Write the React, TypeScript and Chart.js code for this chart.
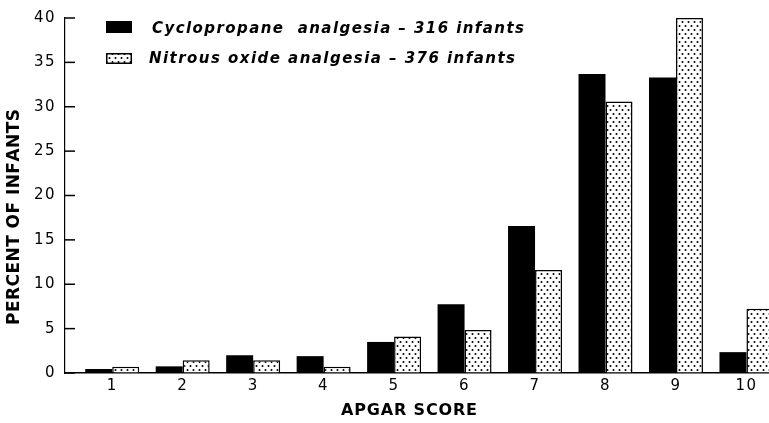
import { useEffect, useRef } from "react";
import { Chart, registerables } from "chart.js";

Chart.register(...registerables);

// ---- data ----
const APGAR_SCORES = [1, 2, 3, 4, 5, 6, 7, 8, 9, 10];
const CYCLOPROPANE = [0.45, 0.75, 2.0, 1.9, 3.5, 7.75, 16.55, 33.7, 33.3, 2.35];
const NITROUS_OXIDE = [0.7, 1.45, 1.45, 0.7, 4.1, 4.85, 11.6, 30.6, 40.0, 7.25];
const Y_TICKS = [0, 5, 10, 15, 20, 25, 30, 35, 40];
const SERIES_LABELS = [
  "Cyclopropane  analgesia – 316 infants",
  "Nitrous oxide analgesia – 376 infants",
];
const X_TITLE = "APGAR SCORE";
const Y_TITLE = "PERCENT OF INFANTS";

const FONT = "DejaVu Sans";

function makeDotPattern(ctx: CanvasRenderingContext2D): CanvasPattern | string {
  const tile = document.createElement("canvas");
  tile.width = 6;
  tile.height = 8;
  const t = tile.getContext("2d");
  if (!t) return "#fff";
  t.fillStyle = "#fff";
  t.fillRect(0, 0, 6, 8);
  t.fillStyle = "#000";
  t.beginPath();
  t.arc(1.5, 2, 1.0, 0, Math.PI * 2);
  t.arc(4.5, 6, 1.0, 0, Math.PI * 2);
  t.fill();
  return ctx.createPattern(tile, "repeat") || "#fff";
}

function spacedText(
  ctx: CanvasRenderingContext2D,
  text: string,
  x: number,
  y: number,
  target: number
) {
  const chars = Array.from(text);
  const widths = chars.map((c) => ctx.measureText(c).width);
  const natural = widths.reduce((a, b) => a + b, 0);
  const gap = chars.length > 1 ? (target - natural) / (chars.length - 1) : 0;
  let cx = x;
  chars.forEach((c, i) => {
    ctx.fillText(c, cx, y);
    cx += widths[i] + gap;
  });
}

const decorPlugin = {
  id: "decor",
  beforeDraw(chart: any) {
    (chart.ctx as any).letterSpacing = "1.5px";
  },
  afterDraw(chart: any) {
    const ctx: CanvasRenderingContext2D = chart.ctx;
    ctx.save();
    (ctx as any).letterSpacing = "0px";
    ctx.fillStyle = "#000";
    ctx.strokeStyle = "#000";

    // inward tick marks on the y axis
    const ys = chart.scales.y;
    ctx.lineWidth = 1.5;
    ys.ticks.forEach((t: any) => {
      const py = ys.getPixelForValue(t.value);
      ctx.beginPath();
      ctx.moveTo(ys.right, py);
      ctx.lineTo(ys.right + 10, py);
      ctx.stroke();
    });

    // legend
    const ds = chart.data.datasets;
    const rows = [
      { boxY: 21, boxH: 12, textY: 33, textX: 152, w: 372 },
      { boxY: 53, boxH: 11, textY: 63, textX: 149, w: 366 },
    ];
    ctx.font = `oblique 600 15px "${FONT}"`;
    ctx.textBaseline = "alphabetic";
    ctx.textAlign = "left";
    ds.forEach((d: any, i: number) => {
      const r = rows[i];
      ctx.fillStyle = d.backgroundColor;
      ctx.fillRect(106, r.boxY, 26, r.boxH);
      if (d.borderWidth) {
        ctx.lineWidth = 1.5;
        ctx.strokeRect(106.75, r.boxY + 0.75, 24.5, r.boxH - 1.5);
      }
      ctx.fillStyle = "#000";
      spacedText(ctx, d.label, r.textX, r.textY, r.w);
    });

    // x title
    ctx.font = `bold 16px "${FONT}"`;
    ctx.textBaseline = "middle";
    spacedText(ctx, X_TITLE, 341, 411, 136);

    // y title
    ctx.translate(15, 215);
    ctx.rotate(-Math.PI / 2);
    ctx.font = `bold 17px "${FONT}"`;
    spacedText(ctx, Y_TITLE, -110, 0, 216);
    ctx.restore();
  },
};

export default function App() {
  const ref = useRef<HTMLCanvasElement | null>(null);

  useEffect(() => {
    document.body.style.margin = "0";
    const canvas = ref.current;
    if (!canvas) return;
    const ctx = canvas.getContext("2d");
    if (!ctx) return;
    const pattern = makeDotPattern(ctx);
    const tickFont = { family: FONT, size: 15 };

    const chart = new Chart(canvas, {
      type: "bar",
      data: {
        datasets: [
          {
            label: SERIES_LABELS[0],
            data: APGAR_SCORES.map((x, i) => ({ x, y: CYCLOPROPANE[i] })),
            backgroundColor: "#000",
            borderWidth: 0,
            categoryPercentage: 0.766,
            barPercentage: 1,
          },
          {
            label: SERIES_LABELS[1],
            data: APGAR_SCORES.map((x, i) => ({ x, y: NITROUS_OXIDE[i] })),
            backgroundColor: pattern as any,
            borderColor: "#000",
            borderWidth: 1.5,
            categoryPercentage: 0.766,
            barPercentage: 1,
          },
        ],
      },
      options: {
        responsive: false,
        animation: false,
        layout: { padding: { top: 13, left: 0, right: 0, bottom: 0 } },
        plugins: {
          legend: { display: false },
          title: { display: false },
          tooltip: { enabled: false },
        },
        scales: {
          x: {
            type: "linear",
            offset: false,
            min: 0.33,
            max: 10.32,
            afterBuildTicks: (s: any) => {
              s.ticks = APGAR_SCORES.map((v) => ({ value: v }));
            },
            afterFit: (s: any) => {
              s.height = 50;
            },
            ticks: {
              padding: 4,
              font: tickFont,
              color: "#000",
              autoSkip: false,
              maxRotation: 0,
            },
            grid: {
              offset: false,
              drawOnChartArea: false,
              drawTicks: false,
              color: "#000",
            },
            border: { display: true, color: "#000", width: 1.5 },
          },
          y: {
            min: 0,
            max: 40,
            afterBuildTicks: (s: any) => {
              s.ticks = Y_TICKS.map((v) => ({ value: v }));
            },
            afterFit: (s: any) => {
              s.width = 65;
            },
            ticks: { padding: 9, font: tickFont, color: "#000" },
            grid: { drawOnChartArea: false, drawTicks: false, color: "#000" },
            border: { display: true, color: "#000", width: 1.2 },
          },
        },
      },
      plugins: [decorPlugin],
    } as any);

    return () => chart.destroy();
  }, []);

  return (
    <canvas
      ref={ref}
      width={769}
      height={423}
      style={{ display: "block", width: 769, height: 423 }}
    />
  );
}
